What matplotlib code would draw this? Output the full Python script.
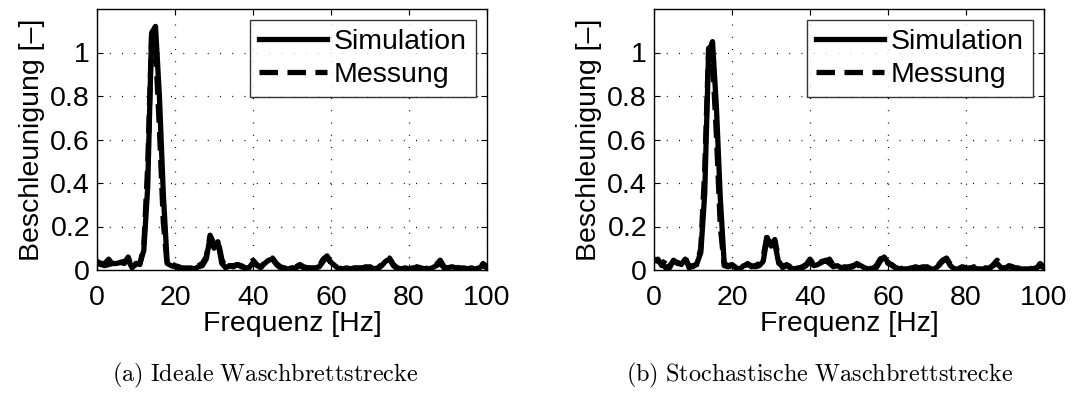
import numpy as np
import matplotlib
matplotlib.use("Agg")
import matplotlib.pyplot as plt

plt.rcParams["font.family"] = ["Liberation Sans", "DejaVu Sans"]
plt.rcParams["mathtext.fontset"] = "cm"

# Frequency grid [Hz]
freq = np.arange(0, 101)

# (a) ideal washboard track
sim_a = [0.03, 0.025, 0.02, 0.025, 0.03, 0.03, 0.035, 0.04, 0.045, 0.01,
         0.03, 0.03, 0.09, 0.38, 1.09, 1.12, 0.80, 0.35, 0.03, 0.02,
         0.015, 0.01, 0.01, 0.005, 0.01, 0.005, 0.015, 0.02, 0.05, 0.15,
         0.10, 0.13, 0.03, 0.01, 0.02, 0.02, 0.025, 0.02, 0.01, 0.01,
         0.035, 0.02, 0.015, 0.03, 0.045, 0.05, 0.025, 0.01, 0.005, 0.005,
         0.01, 0.01, 0.02, 0.01, 0.01, 0.01, 0.01, 0.015, 0.04, 0.06,
         0.035, 0.02, 0.005, 0.005, 0.005, 0.005, 0.01, 0.01, 0.01, 0.015,
         0.01, 0.005, 0.005, 0.02, 0.04, 0.05, 0.02, 0.005, 0.005, 0.01,
         0.005, 0.01, 0.01, 0.005, 0.005, 0.005, 0.01, 0.02, 0.03, 0.01,
         0.01, 0.015, 0.01, 0.01, 0.005, 0.005, 0.005, 0.005, 0.01, 0.02,
         0.01]
mess_a = [0.04, 0.03, 0.03, 0.05, 0.025, 0.03, 0.035, 0.03, 0.06, 0.005,
          0.03, 0.025, 0.11, 0.48, 1.08, 1.02, 0.65, 0.22, 0.02, 0.03,
          0.02, 0.015, 0.005, 0.01, 0.005, 0.01, 0.02, 0.03, 0.06, 0.16,
          0.12, 0.14, 0.05, 0.005, 0.02, 0.015, 0.025, 0.015, 0.01, 0.02,
          0.045, 0.025, 0.01, 0.035, 0.04, 0.055, 0.03, 0.015, 0.01, 0.005,
          0.01, 0.015, 0.025, 0.015, 0.01, 0.005, 0.01, 0.02, 0.05, 0.065,
          0.03, 0.025, 0.01, 0.005, 0.01, 0.005, 0.005, 0.015, 0.01, 0.01,
          0.015, 0.005, 0.01, 0.025, 0.045, 0.055, 0.025, 0.01, 0.005, 0.015,
          0.01, 0.005, 0.015, 0.01, 0.005, 0.01, 0.005, 0.025, 0.045, 0.015,
          0.005, 0.02, 0.015, 0.005, 0.01, 0.005, 0.01, 0.005, 0.005, 0.03,
          0.015]

# (b) stochastic washboard track
sim_b = [0.05, 0.04, 0.03, 0.01, 0.02, 0.04, 0.035, 0.025, 0.05, 0.02,
         0.015, 0.03, 0.08, 0.35, 1.00, 1.05, 0.75, 0.33, 0.03, 0.02,
         0.025, 0.01, 0.005, 0.02, 0.025, 0.02, 0.015, 0.02, 0.04, 0.15,
         0.11, 0.12, 0.03, 0.02, 0.02, 0.01, 0.005, 0.01, 0.01, 0.02,
         0.04, 0.02, 0.025, 0.035, 0.045, 0.03, 0.015, 0.02, 0.01, 0.015,
         0.01, 0.015, 0.03, 0.02, 0.01, 0.005, 0.005, 0.01, 0.04, 0.06,
         0.035, 0.02, 0.01, 0.005, 0.005, 0.005, 0.01, 0.01, 0.01, 0.015,
         0.01, 0.005, 0.005, 0.02, 0.04, 0.05, 0.02, 0.005, 0.005, 0.01,
         0.005, 0.01, 0.01, 0.005, 0.005, 0.005, 0.01, 0.02, 0.03, 0.01,
         0.01, 0.015, 0.01, 0.01, 0.005, 0.005, 0.005, 0.005, 0.01, 0.02,
         0.01]
mess_b = [0.04, 0.05, 0.02, 0.05, 0.01, 0.045, 0.03, 0.03, 0.06, 0.01,
          0.02, 0.025, 0.10, 0.46, 1.02, 0.97, 0.62, 0.20, 0.02, 0.015,
          0.02, 0.015, 0.01, 0.015, 0.03, 0.015, 0.02, 0.03, 0.06, 0.16,
          0.12, 0.14, 0.04, 0.01, 0.025, 0.015, 0.01, 0.005, 0.015, 0.025,
          0.05, 0.025, 0.02, 0.04, 0.04, 0.05, 0.02, 0.025, 0.015, 0.01,
          0.015, 0.02, 0.025, 0.015, 0.01, 0.01, 0.005, 0.02, 0.05, 0.065,
          0.03, 0.025, 0.01, 0.005, 0.01, 0.005, 0.005, 0.015, 0.01, 0.01,
          0.015, 0.005, 0.01, 0.025, 0.045, 0.055, 0.025, 0.01, 0.005, 0.015,
          0.01, 0.005, 0.015, 0.01, 0.005, 0.01, 0.005, 0.025, 0.045, 0.015,
          0.005, 0.02, 0.015, 0.005, 0.01, 0.005, 0.01, 0.005, 0.005, 0.03,
          0.015]

xticks = [0, 20, 40, 60, 80, 100]
yticks = [0, 0.2, 0.4, 0.6, 0.8, 1]
ytick_labels = ["0", "0.2", "0.4", "0.6", "0.8", "1"]
captions = ["(a) Ideale Waschbrettstrecke", "(b) Stochastische Waschbrettstrecke"]

W, H = 1091, 401
fig = plt.figure(figsize=(W / 100, H / 100), dpi=100)

# (axes left edge, caption centre) in pixels
panels = [
    (97, 265, sim_a, mess_a, captions[0]),
    (654, 820, sim_b, mess_b, captions[1]),
]
ax_w, ax_top, ax_bot = 390, 9, 270
FS = 20.5

for left, cap_x, sim, mess, cap in panels:
    ax = fig.add_axes([left / W, 1 - ax_bot / H, ax_w / W, (ax_bot - ax_top) / H])
    ax.plot(freq, mess, color="black", lw=3.8, ls=(0, (3.5, 1.8)), label="Messung", zorder=3)
    ax.plot(freq, sim, color="black", lw=3.8, ls="-", label="Simulation", zorder=4)
    ax.set_xlim(0, 100)
    ax.set_ylim(0, 1.2)
    ax.set_xticks(xticks)
    ax.set_yticks(yticks)
    ax.set_yticklabels(ytick_labels)
    ax.tick_params(direction="in", top=True, right=True, labelsize=FS,
                   length=4, width=0.8)
    ax.tick_params(axis="x", pad=11)
    ax.tick_params(axis="y", pad=5)
    ax.grid(True, color="black", lw=0.9, ls=(0, (0.8, 9)))
    for s in ax.spines.values():
        s.set_linewidth(1.0)
    ax.set_xlabel("Frequenz [Hz]", fontsize=FS, labelpad=0)
    ax.set_ylabel("Beschleunigung [\u2013]", fontsize=FS, labelpad=4)
    handles, labels = ax.get_legend_handles_labels()
    leg = ax.legend(handles[::-1], labels[::-1], loc="upper right", fontsize=FS,
                    frameon=True, fancybox=False, edgecolor="black",
                    handlelength=2.4, handletextpad=0.25, borderpad=0.3,
                    labelspacing=0.25, borderaxespad=0.4)
    leg.get_frame().set_linewidth(1.0)
    fig.text(cap_x / W, 1 - 375 / H,
             r"$\mathrm{" + cap.replace(" ", r"\ ") + "}$",
             ha="center", va="center", fontsize=17.5)

fig.savefig("out.png", dpi=100)
